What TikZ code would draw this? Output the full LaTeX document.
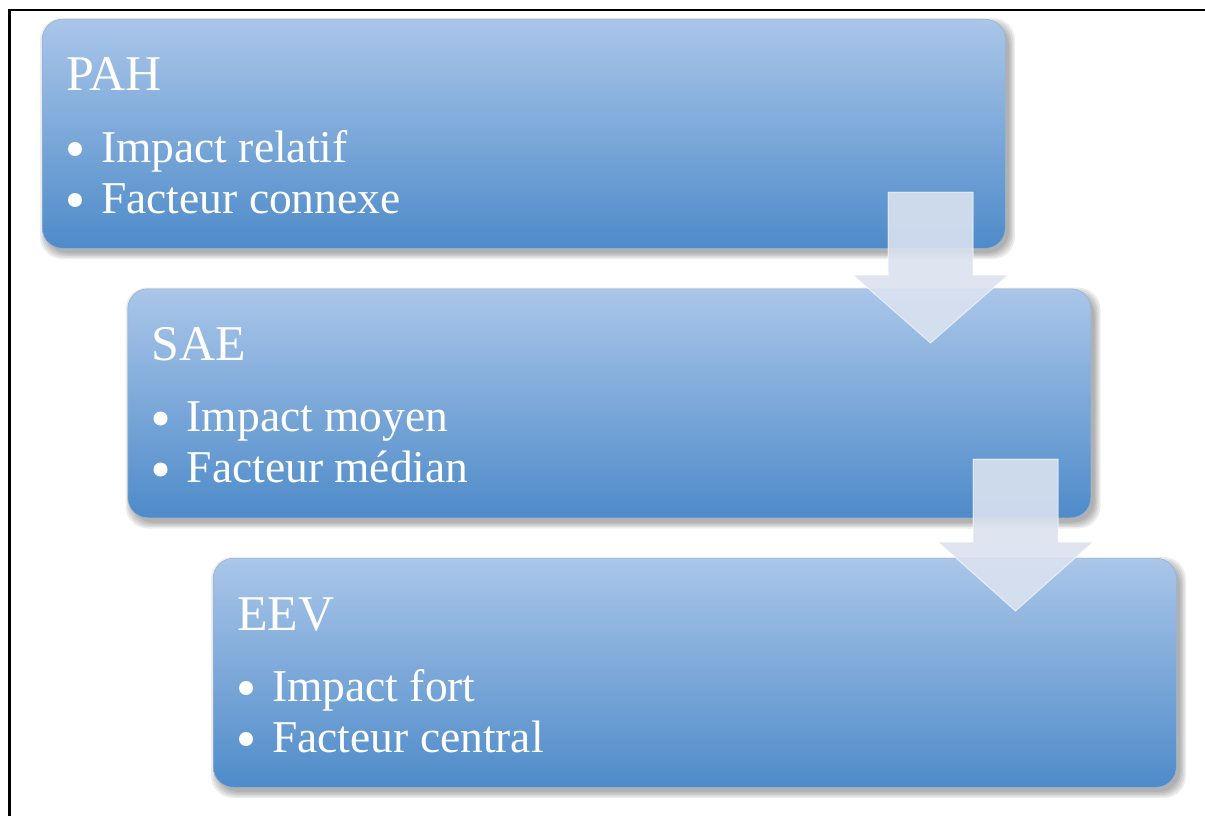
\documentclass[tikz,border=0pt]{standalone}
\usepackage{fontspec}
\setmainfont{Liberation Serif}
\definecolor{boxtop}{RGB}{170,198,233}
\definecolor{boxbot}{RGB}{78,139,201}
\definecolor{boxedge}{RGB}{150,180,215}
\definecolor{arrowfill}{RGB}{218,226,240}
\begin{document}
\begin{tikzpicture}[x=1pt,y=-1pt,
  stagebox/.style={rounded corners=20pt, top color=boxtop, bottom color=boxbot, draw=boxedge, line width=0.6pt, minimum width=963pt, minimum height=229pt, anchor=north west, inner sep=0pt},
  shadowlayer/.style={fill=black, opacity=0.07, rounded corners=22pt},
  titletext/.style={text=white, font=\fontsize{50}{60}\selectfont, anchor=base west, inner sep=0pt},
  itemtext/.style={text=white, font=\fontsize{45.5}{54}\selectfont, anchor=base west, inner sep=0pt},
  bulletdot/.style={circle, fill=white, minimum size=14pt, inner sep=0pt},
  flowarrow/.style={fill=arrowfill, fill opacity=0.9, draw=white, draw opacity=0.6, line width=1pt, line join=miter}
]
\useasboundingbox (0,0) rectangle (1205,816);
\draw[line width=2.5pt] (9.5,816) -- (9.5,10) -- (1205,10);

% shadows
\foreach \bx/\by in {42/19, 127.5/288.5, 213/558}{
  \foreach \e in {0,1.5,3,4.5,6}{
    \fill[shadowlayer] (\bx+4-\e,\by+5-\e) rectangle (\bx+963+4+\e,\by+229+5+\e);
  }
}

% box 1
\node[stagebox] (b1) at (42,19) {};
\node[titletext] (t1) at (66,91) {PAH};
\node[bulletdot] (d11) at (75,149) {};
\node[itemtext] (i11) at (101,162) {Impact relatif};
\node[bulletdot] (d12) at (75,200) {};
\node[itemtext] (i12) at (101,213) {Facteur connexe};

% box 2
\node[stagebox] (b2) at (127.5,288.5) {};
\node[titletext] (t2) at (151.5,360.5) {SAE};
\node[bulletdot] (d21) at (160.5,418.5) {};
\node[itemtext] (i21) at (186.5,431.5) {Impact moyen};
\node[bulletdot] (d22) at (160.5,469.5) {};
\node[itemtext] (i22) at (186.5,482.5) {Facteur médian};

% box 3
\node[stagebox] (b3) at (213,558) {};
\node[titletext] (t3) at (237,630) {EEV};
\node[bulletdot] (d31) at (246,688) {};
\node[itemtext] (i31) at (272,701) {Impact fort};
\node[bulletdot] (d32) at (246,739) {};
\node[itemtext] (i32) at (272,752) {Facteur central};

% arrows
\draw[flowarrow] (888,192) -- (973,192) -- (973,275) -- (1008,275) -- (930.5,343) -- (853,275) -- (888,275) -- cycle;
\draw[flowarrow] (973,459) -- (1058,459) -- (1058,542) -- (1093,542) -- (1015.5,611) -- (938,542) -- (973,542) -- cycle;
\end{tikzpicture}
\end{document}
